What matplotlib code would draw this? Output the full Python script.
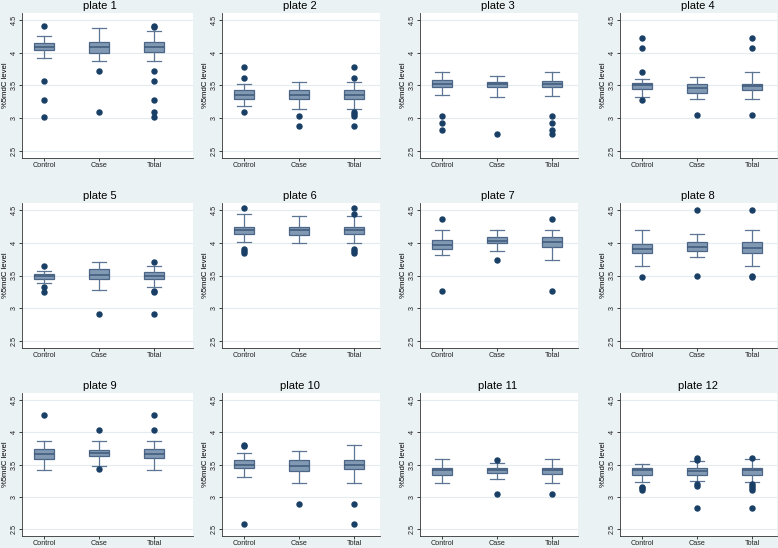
import matplotlib
matplotlib.use("Agg")
import matplotlib.pyplot as plt

plt.rcParams['font.family'] = ['Liberation Sans', 'DejaVu Sans']

groups = ["Control", "Case", "Total"]
plates = ["plate %d" % i for i in range(1, 13)]

# box statistics per plate, one value per group (Control, Case, Total)
whisker_low = [
    [3.92, 3.87, 3.87], [3.19, 3.14, 3.14], [3.35, 3.33, 3.34], [3.32, 3.29, 3.29],
    [3.38, 3.28, 3.32], [4.02, 3.99, 3.99], [3.81, 3.88, 3.73], [3.65, 3.79, 3.65],
    [3.41, 3.47, 3.41], [3.30, 3.21, 3.21], [3.22, 3.27, 3.22], [3.23, 3.25, 3.23],
]
box_low = [
    [4.04, 4.00, 4.02], [3.30, 3.29, 3.29], [3.47, 3.47, 3.47], [3.44, 3.39, 3.43],
    [3.45, 3.45, 3.45], [4.14, 4.12, 4.13], [3.91, 3.99, 3.94], [3.84, 3.88, 3.85],
    [3.58, 3.63, 3.60], [3.44, 3.40, 3.43], [3.33, 3.37, 3.35], [3.34, 3.34, 3.34],
]
median = [
    [4.09, 4.09, 4.09], [3.36, 3.36, 3.36], [3.53, 3.53, 3.52], [3.50, 3.46, 3.49],
    [3.49, 3.51, 3.50], [4.20, 4.19, 4.20], [3.97, 4.03, 4.01], [3.91, 3.94, 3.92],
    [3.66, 3.68, 3.66], [3.50, 3.48, 3.50], [3.41, 3.41, 3.41], [3.42, 3.40, 3.41],
]
box_high = [
    [4.157, 4.17, 4.17], [3.43, 3.43, 3.43], [3.58, 3.56, 3.57], [3.54, 3.52, 3.53],
    [3.52, 3.60, 3.55], [4.25, 4.24, 4.25], [4.05, 4.09, 4.09], [3.98, 4.01, 4.01],
    [3.74, 3.73, 3.74], [3.57, 3.57, 3.57], [3.45, 3.44, 3.45], [3.45, 3.44, 3.44],
]
whisker_high = [
    [4.255, 4.38, 4.33], [3.52, 3.56, 3.56], [3.70, 3.65, 3.70], [3.60, 3.63, 3.71],
    [3.57, 3.71, 3.64], [4.44, 4.41, 4.41], [4.20, 4.19, 4.20], [4.19, 4.14, 4.19],
    [3.86, 3.87, 3.87], [3.68, 3.71, 3.80], [3.59, 3.52, 3.59], [3.51, 3.56, 3.58],
]
outliers = [
    [[4.41, 3.57, 3.28, 3.02], [3.72, 3.10], [4.41, 4.39, 3.72, 3.57, 3.28, 3.10, 3.02]],
    [[3.79, 3.62, 3.10], [3.04, 2.88], [3.79, 3.62, 3.10, 3.07, 3.04, 2.88]],
    [[3.03, 2.92, 2.82], [2.75], [3.03, 2.92, 2.82, 2.75]],
    [[4.23, 4.07, 3.71, 3.28], [3.05], [4.23, 4.07, 3.05]],
    [[3.64, 3.32, 3.25], [2.91], [3.71, 3.26, 3.24, 2.91]],
    [[4.54, 3.91, 3.88, 3.85], [], [4.54, 4.44, 3.91, 3.88, 3.85]],
    [[4.36, 3.26], [3.74], [4.36, 3.26]],
    [[3.47], [4.50, 3.50], [4.50, 3.49, 3.47]],
    [[4.27], [4.03, 3.43], [4.27, 4.03]],
    [[3.80, 3.78, 2.58], [2.89], [2.89, 2.58]],
    [[], [3.57, 3.04], [3.04]],
    [[3.15, 3.13, 3.10], [3.60, 3.57, 3.19, 3.16, 2.83], [3.60, 3.19, 3.16, 3.13, 3.10, 2.83]],
]
y_ticks = [2.5, 3, 3.5, 4, 4.5]
y_tick_labels = ["2.5", "3", "3.5", "4", "4.5"]

bg = "#eaf2f3"
W, H = 778, 548
col_px = [(22, 193), (222, 380), (420, 578), (620, 777)]
row_px = [(13, 158), (203, 348), (393, 536)]
title_x = [100, 300, 498, 698]
spacing = 55.0

fig = plt.figure(figsize=(W / 100, H / 100), dpi=100, facecolor=bg)

for k in range(12):
    r, c = divmod(k, 4)
    l, rt = col_px[c]
    t, b = row_px[r]
    ax = fig.add_axes([l / W, 1 - b / H, (rt - l) / W, (b - t) / H])
    ax.set_facecolor("white")

    stats = []
    for g in range(3):
        stats.append(dict(whislo=whisker_low[k][g], q1=box_low[k][g], med=median[k][g],
                          q3=box_high[k][g], whishi=whisker_high[k][g],
                          fliers=outliers[k][g], label=groups[g]))
    ax.bxp(stats, positions=[1, 2, 3], widths=0.38, capwidths=0.27, patch_artist=True,
           boxprops=dict(facecolor="#8299b4", edgecolor="#4b6686", linewidth=0.9),
           medianprops=dict(color="#3d5878", linewidth=1.1),
           whiskerprops=dict(color="#5b7593", linewidth=0.9),
           capprops=dict(color="#5b7593", linewidth=0.9),
           flierprops=dict(marker="o", markersize=3.6, markerfacecolor="#1a3f66",
                           markeredgecolor="#1a3f66"))

    ax.set_xlim(0.6, 0.6 + (rt - l) / spacing)
    ax.set_ylim(2.39, 4.61)
    ax.set_yticks(y_ticks)
    ax.set_yticklabels(y_tick_labels, rotation=90, va="center")
    ax.yaxis.grid(True, color="#e3ecee", linewidth=0.8)
    ax.set_axisbelow(True)
    ax.tick_params(axis="both", labelsize=5.2, length=2.2, width=0.6, pad=1.0, colors="#222222")
    for s in ["top", "right"]:
        ax.spines[s].set_visible(False)
    for s in ["left", "bottom"]:
        ax.spines[s].set_color("#333333")
        ax.spines[s].set_linewidth(0.6)
    ax.set_ylabel("%5mdC level", fontsize=5.6, labelpad=1.0)
    ax.set_title(plates[k], fontsize=8, pad=3, x=(title_x[c] - l) / (rt - l))

fig.savefig("out.png", dpi=100, facecolor=bg)
